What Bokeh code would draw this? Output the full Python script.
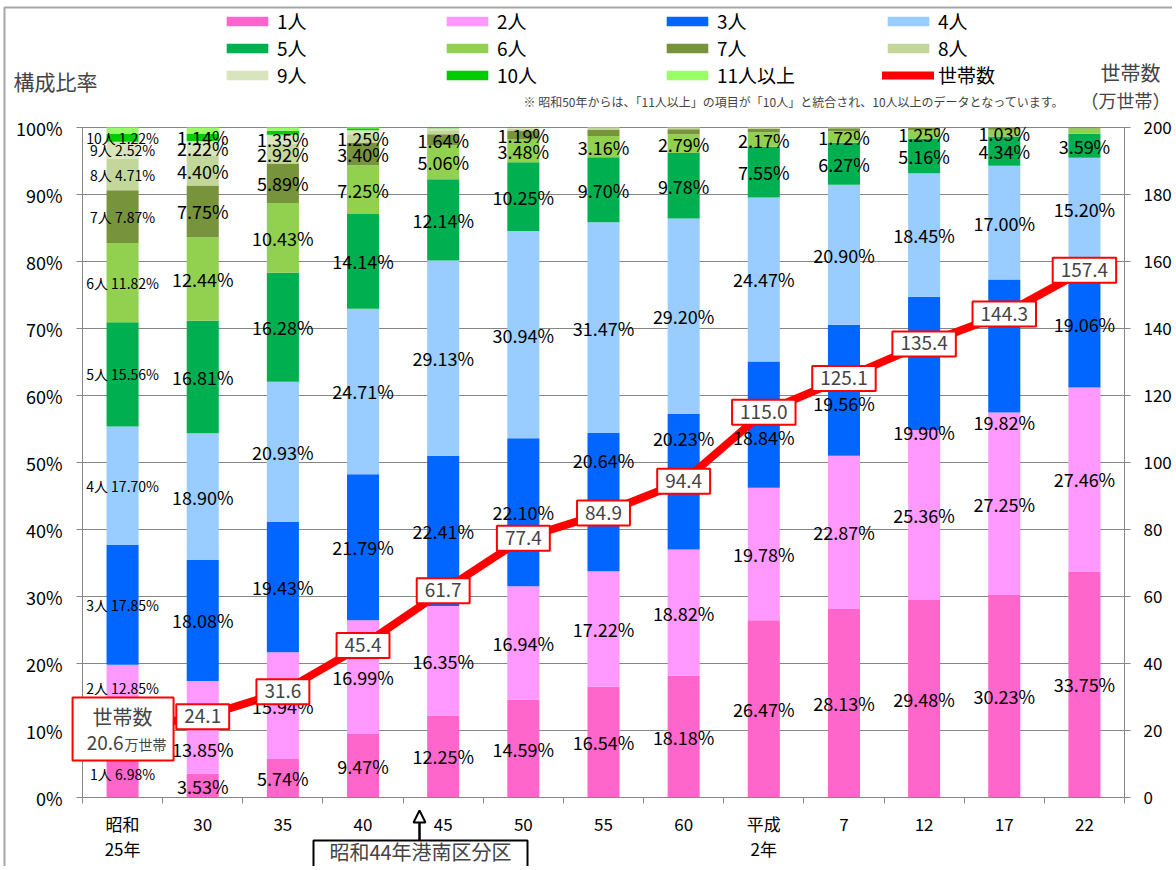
from bokeh.plotting import figure
from bokeh.models import (Range1d, LinearAxis, FixedTicker, ColumnDataSource, Label,
                          Legend, LegendItem, BoxAnnotation, Arrow, NormalHead)
from bokeh.core.properties import value
from bokeh.embed import file_html
from bokeh.resources import INLINE

FONT = "Noto Sans CJK JP"

# ---------------- data ----------------
categories = ["昭和\n25年", "30", "35", "40", "45", "50", "55", "60", "平成\n2年", "7", "12", "17", "22"]
series_names = ["1人", "2人", "3人", "4人", "5人", "6人", "7人", "8人", "9人", "10人", "11人以上"]

p1 = [6.98, 3.53, 5.74, 9.47, 12.25, 14.59, 16.54, 18.18, 26.47, 28.13, 29.48, 30.23, 33.75]
p2 = [12.85, 13.85, 15.94, 16.99, 16.35, 16.94, 17.22, 18.82, 19.78, 22.87, 25.36, 27.25, 27.46]
p3 = [17.85, 18.08, 19.43, 21.79, 22.41, 22.10, 20.64, 20.23, 18.84, 19.56, 19.90, 19.82, 19.06]
p4 = [17.70, 18.90, 20.93, 24.71, 29.13, 30.94, 31.47, 29.20, 24.47, 20.90, 18.45, 17.00, 15.20]
p5 = [15.56, 16.81, 16.28, 14.14, 12.14, 10.25, 9.70, 9.78, 7.55, 6.27, 5.16, 4.34, 3.59]
p6 = [11.82, 12.44, 10.43, 7.25, 5.06, 3.48, 3.16, 2.79, 2.17, 1.72, 1.25, 1.03, 0.80]
p7 = [7.87, 7.75, 5.89, 3.40, 1.64, 1.19, 0.90, 0.75, 0.55, 0.45, 0.35, 0.33, 0.14]
p8 = [4.71, 4.40, 2.92, 1.25, 0.60, 0.35, 0.30, 0.20, 0.17, 0.10, 0.05, 0.00, 0.00]
p9 = [2.52, 2.22, 1.35, 0.60, 0.30, 0.10, 0.07, 0.05, 0.00, 0.00, 0.00, 0.00, 0.00]
p10 = [1.22, 1.14, 0.60, 0.30, 0.12, 0.06, 0.00, 0.00, 0.00, 0.00, 0.00, 0.00, 0.00]
p11 = [0.92, 0.88, 0.49, 0.10, 0.00, 0.00, 0.00, 0.00, 0.00, 0.00, 0.00, 0.00, 0.00]

households = [20.6, 24.1, 31.6, 45.4, 61.7, 77.4, 84.9, 94.4, 115.0, 125.1, 135.4, 144.3, 157.4]

left_ticks = [0, 10, 20, 30, 40, 50, 60, 70, 80, 90, 100]
right_ticks = [0, 20, 40, 60, 80, 100, 120, 140, 160, 180, 200]

colors = ["#ff66cc", "#ff99ff", "#0066ff", "#99ccff", "#00b050", "#92d050",
          "#77933c", "#c4d79b", "#d8e4bc", "#00cc00", "#99ff66"]
LINE_COLOR = "#ff0000"
GRID = "#868686"

# manual nudges of a few data labels (pixels, + = down), as in the original chart
label_nudge_px = {(1, 0): -20, (1, 1): 22,
                  (2, 6): -42, (2, 7): -44, (2, 8): 12, (2, 9): 13, (2, 10): 69, (2, 11): 76}

series = [p1, p2, p3, p4, p5, p6, p7, p8, p9, p10, p11]
keys = [f"s{i}" for i in range(len(series))]
n = len(categories)
xs = [i + 0.5 for i in range(n)]

# ---------------- geometry (frame = whole canvas, axes fixed inside) ----------------
W, H = 1172, 866
PLOT_L, PLOT_R, PLOT_T, PLOT_B = 82, 1124, 127, 797   # pixel box of the 0..13 x 0..100 area
PXX = (PLOT_R - PLOT_L) / n
PXY = (PLOT_B - PLOT_T) / 100.0
HH_PER_PX = 200.0 / (PLOT_B - PLOT_T)


def dx(px):
    return (px - PLOT_L) / PXX


def dy(py):
    return (PLOT_B - py) / PXY


p = figure(width=W, height=H,
           x_range=Range1d(dx(0), dx(W)), y_range=Range1d(dy(H), dy(0)),
           output_backend="svg", toolbar_location=None,
           min_border_left=0, min_border_right=0, min_border_top=0, min_border_bottom=0)
p.extra_y_ranges = {"hh": Range1d(2 * dy(H), 2 * dy(0))}
p.outline_line_color = None
p.background_fill_color = "white"
p.border_fill_color = "white"
p.xgrid.visible = False
p.ygrid.visible = False

# outer chart border (top and left edges visible)
p.add_layout(BoxAnnotation(left=dx(4), right=dx(1300), top=dy(7), bottom=dy(1000),
                           fill_alpha=0, line_color="#a6a6a6", line_width=2, line_alpha=1.0))

# ---------------- gridlines ----------------
gt = [t for t in left_ticks if t > 0]
p.segment(x0=[0] * len(gt), y0=gt, x1=[n] * len(gt), y1=gt, line_color=GRID, line_width=1)

# ---------------- bars ----------------
data = {"x": xs}
for k, s in zip(keys, series):
    data[k] = s
src = ColumnDataSource(data)
bar_renderers = p.vbar_stack(keys, x="x", width=0.4, color=colors, line_color=None, source=src)

# ---------------- line ----------------
line_r = p.line(xs, households, y_range_name="hh", line_color=LINE_COLOR, line_width=8,
                line_cap="round", line_join="round")

# ---------------- percent labels ----------------
lx, ly, lt = [], [], []
fx, fy, ft = [], [], []
for i in range(n):
    cum = 0.0
    for j, s in enumerate(series):
        v = s[i]
        mid = cum + v / 2
        cum += v
        mid -= label_nudge_px.get((j, i), 0) / PXY
        if v >= 1.0:
            if i == 0:
                fx.append(xs[i]); fy.append(mid); ft.append(f"{series_names[j]} {v:.2f}%")
            else:
                lx.append(xs[i]); ly.append(mid); lt.append(f"{v:.2f}%")

p.text(x=lx, y=ly, text=lt, text_font=value(FONT), text_font_size="18px",
       text_align="center", text_baseline="middle", text_color="black")
p.text(x=fx, y=fy, text=ft, text_font=value(FONT), text_font_size="14px",
       text_align="center", text_baseline="middle", text_color="black")

# ---------------- household labels ----------------
first_box = BoxAnnotation(left=xs[0] - 50 / PXX, right=xs[0] + 51 / PXX,
                          bottom=households[0] - 32 * HH_PER_PX, top=households[0] + 31 * HH_PER_PX,
                          y_range_name="hh", fill_color="white", fill_alpha=1.0,
                          line_color=LINE_COLOR, line_width=2, line_alpha=1.0)
p.add_layout(first_box)
p.add_layout(Label(x=xs[0], y=households[0], y_range_name="hh", text="世帯数", y_offset=12,
                   text_font=FONT, text_font_size="20px", text_align="center", text_baseline="middle"))
p.add_layout(Label(x=xs[0], y=households[0], y_range_name="hh", text=f"{households[0]:.1f}",
                   x_offset=1, y_offset=-15, text_font=FONT, text_font_size="19px",
                   text_align="right", text_baseline="middle"))
p.add_layout(Label(x=xs[0], y=households[0], y_range_name="hh", text="万世帯",
                   x_offset=2, y_offset=-16, text_font=FONT, text_font_size="14px",
                   text_align="left", text_baseline="middle"))

for i in range(1, n):
    p.add_layout(Label(x=xs[i], y=households[i], y_range_name="hh", text=f"{households[i]:.1f}",
                       text_font=FONT, text_font_size="19px", text_align="center",
                       text_baseline="middle", background_fill_color="white",
                       background_fill_alpha=1.0, border_line_color=LINE_COLOR,
                       border_line_width=2, border_line_alpha=1.0,
                       padding=dict(left=8, right=8, top=5, bottom=6)))

# ---------------- axes ----------------
xax = p.xaxis[0]
xax.fixed_location = 0
xax.bounds = (0, n)
xax.ticker = FixedTicker(ticks=xs, minor_ticks=[float(i) for i in range(n + 1)])
xax.major_label_overrides = {x: c for x, c in zip(xs, categories)}
xax.major_tick_line_color = None
xax.major_tick_out = 0
xax.major_tick_in = 0
xax.minor_tick_line_color = GRID
xax.minor_tick_out = 6
xax.minor_tick_in = 0
xax.axis_line_color = GRID
xax.major_label_text_font = FONT
xax.major_label_text_font_size = "17px"
xax.major_label_text_color = "black"
xax.major_label_standoff = 7
xax.major_label_text_line_height = 1.0

yax = p.yaxis[0]
yax.fixed_location = 0
yax.bounds = (0, 100)
yax.ticker = FixedTicker(ticks=left_ticks)
yax.major_label_overrides = {t: f"{t}%" for t in left_ticks}
yax.major_tick_out = 6
yax.major_tick_in = 0
yax.minor_tick_line_color = None
yax.major_tick_line_color = GRID
yax.axis_line_color = GRID
yax.major_label_text_font = FONT
yax.major_label_text_font_size = "18px"
yax.major_label_text_color = "black"
yax.major_label_standoff = 14

raxis = LinearAxis(y_range_name="hh", ticker=FixedTicker(ticks=right_ticks),
                   fixed_location=n, bounds=(0, 200))
raxis.major_tick_out = 6
raxis.major_tick_in = 0
raxis.minor_tick_line_color = None
raxis.major_tick_line_color = GRID
raxis.axis_line_color = GRID
raxis.major_label_text_font = FONT
raxis.major_label_text_font_size = "17px"
raxis.major_label_text_color = "black"
raxis.major_label_standoff = 13
p.add_layout(raxis, "right")

# ---------------- legends ----------------
legend_cols = [[0, 4, 8], [1, 5, 9], [2, 6, 10], [3, 7, None]]
legend_x = [221, 441, 661, 882]
for cx, col in zip(legend_x, legend_cols):
    items = []
    for j in col:
        if j is None:
            items.append(LegendItem(label="世帯数", renderers=[line_r]))
        else:
            items.append(LegendItem(label=series_names[j], renderers=[bar_renderers[j]]))
    lg = Legend(items=items, location=(cx, H - 88), orientation="vertical",
                glyph_width=52, glyph_height=12, label_standoff=4, spacing=0,
                padding=0, margin=0, label_height=25,
                label_text_font=FONT, label_text_font_size="19px", label_text_color="black",
                background_fill_alpha=0, border_line_alpha=0)
    p.add_layout(lg, "center")

# ---------------- titles / notes ----------------
p.add_layout(Label(x=dx(13), y=dy(80), text="構成比率", text_font=FONT, text_font_size="21px",
                   text_align="left", text_baseline="middle"))
p.add_layout(Label(x=dx(1130), y=dy(72), text="世帯数", text_font=FONT, text_font_size="20px",
                   text_align="center", text_baseline="middle"))
p.add_layout(Label(x=dx(1125), y=dy(99), text="（万世帯）", text_font=FONT, text_font_size="18px",
                   text_align="center", text_baseline="middle"))
p.add_layout(Label(x=dx(523), y=dy(101),
                   text="※  昭和50年からは、「11人以上」の項目が「10人」と統合され、10人以上のデータとなっています。",
                   text_font=FONT, text_font_size="12px", text_align="left", text_baseline="middle"))

# ---------------- annotation arrow ----------------
p.add_layout(Arrow(end=NormalHead(size=12, fill_color="white", line_color="black", line_width=2),
                   x_start=dx(419), y_start=dy(840), x_end=dx(419), y_end=dy(810),
                   line_color="black", line_width=2.5))
p.add_layout(BoxAnnotation(left=dx(313), right=dx(527), top=dy(840), bottom=dy(900),
                           fill_color="white", fill_alpha=1.0, line_color="black",
                           line_width=2, line_alpha=1.0))
p.add_layout(Label(x=dx(420), y=dy(851), text="昭和44年港南区分区", text_font=FONT,
                   text_font_size="20px", text_align="center", text_baseline="middle"))

open("out.html", "w").write(file_html(p, INLINE))
